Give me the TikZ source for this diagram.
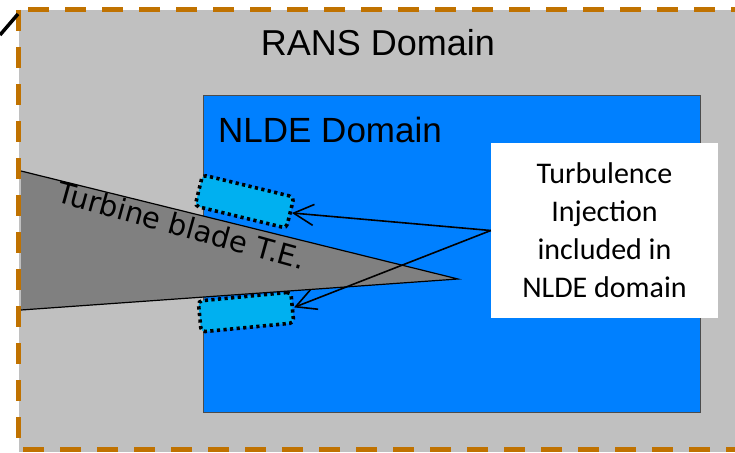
\documentclass[tikz,border=0pt]{standalone}
\usepackage{fontspec}
\setmainfont{Liberation Sans}
\newfontfamily\calibrifont{Carlito}
\newfontfamily\dejavufont{DejaVu Sans}
\usepackage{xcolor}
\usepackage{tikz}
\usetikzlibrary{
    arrows.meta,
    positioning
}
\definecolor{ransgray}{RGB}{192,192,192}
\definecolor{bladegray}{RGB}{128,128,128}
\definecolor{nldeblue}{RGB}{0,128,255}
\definecolor{injcyan}{RGB}{0,176,240}
\definecolor{dashorange}{RGB}{192,114,0}
\tikzset{
  ransfill/.style = {
      fill=ransgray
  },
  ransborder/.style = {
      draw=dashorange,
      line width=5pt,
      dash pattern=on 21pt off 16pt
  },
  nldebox/.style = {
      fill=nldeblue,
      draw=black!70,
      line width=1pt
  },
  title/.style = {
      inner sep=0pt,
      text=black
  },
  inject/.style = {
      draw,
      fill=injcyan,
      rectangle,
      rounded corners=4pt,
      line width=3.6pt,
      dash pattern=on 3.2pt off 3.4pt,
      inner sep=0pt,
      minimum width=94pt,
      minimum height=32pt
  },
  blade/.style = {
      fill=bladegray
  },
  note/.style = {
      fill=white,
      rectangle,
      inner sep=0pt,
      minimum width=227pt,
      minimum height=175pt,
      align=center,
      font=\calibrifont\fontsize{30}{38}\selectfont
  },
  pointer/.style = {
      -{Straight Barb[length=20pt,width=21pt]},
      line width=1.6pt
  }
}

\begin{document}
\begin{tikzpicture}[x=1pt, y=-1pt]
    \clip (0,0) rectangle (735,452);
    % Domains
    \fill[white] (0,0) rectangle (735,452);
    \fill[ransfill] (19,10) rectangle (740,452);
    \draw[ransborder] (18,10) rectangle (760,449);
    \draw[line width=3.5pt] (0,35) -- (18,14);
    \draw[nldebox] (203,95) rectangle (700,412);
    \node[title, anchor=base, font=\fontsize{36}{43}\selectfont] (rans) at (378,56) {RANS Domain};
    \node[title, anchor=base west, font=\fontsize{35}{42}\selectfont] (nlde) at (218,142.7) {NLDE Domain};
    \node[note] (note) at (604.5,230.5) {Turbulence\\Injection\\included in\\NLDE domain};
    % Injection zones
    \node[inject, rotate=-13.6] (injup) at (244.5,201.5) {};
    \node[inject, rotate=5.5, minimum width=93pt, minimum height=31pt] (injdown) at (246,312) {};
    % Blade
    \coordinate (bladetop) at (21,171);
    \coordinate (bladetip) at (458,279);
    \coordinate (bladebot) at (21,310);
    \fill[blade] (bladetop) -- (bladetip) -- (bladebot) -- cycle;
    \draw[line width=1.2pt] (bladetop) -- (bladetip) -- (bladebot);
    \node[title, anchor=base, rotate=-15.5, font=\dejavufont\fontsize{29}{35}\selectfont] (bladename) at (179,236) {Turbine blade T.E.};
    % Arrows
    \draw[pointer] (note.west) -- (injup.east);
    \draw[pointer] (note.west) -- (injdown.east);
\end{tikzpicture}
\end{document}
